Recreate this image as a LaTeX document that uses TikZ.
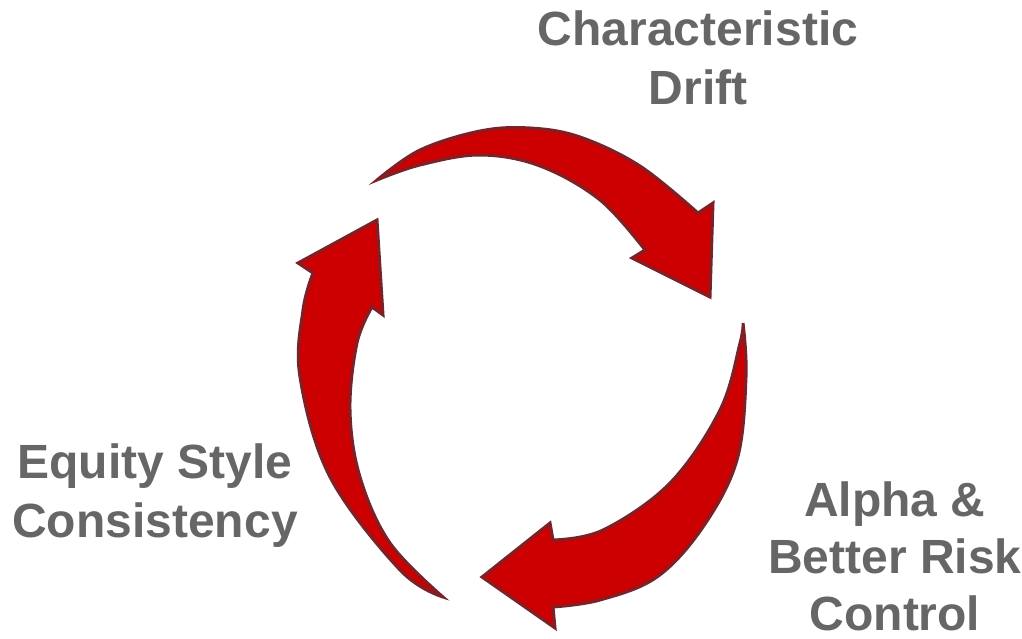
\documentclass[tikz,border=0pt]{standalone}
\usepackage{fontspec}
\setmainfont{Liberation Sans}
\begin{document}
\begin{tikzpicture}[x=1pt,y=-1pt,
  bigarrow/.style={fill=arrowred, draw=arrowedge, line width=3pt, line join=miter},
  label/.style={text=labelgray, font=\fontsize{48}{59}\selectfont\bfseries, align=center, inner sep=0pt}]
\definecolor{arrowred}{HTML}{CC0000}
\definecolor{arrowedge}{HTML}{7A2228}
\definecolor{labelgray}{HTML}{666666}
\useasboundingbox (0,0) rectangle (1022,639);

% upper arrow, bending clockwise to the right
\path[bigarrow]
  plot[smooth, tension=0.6] coordinates {(377,180) (420,150) (480,131) (530,128) (580,137) (640,166) (698,213)}
  -- (713,203) -- (710,297) -- (632,258) -- (645,250)
  -- plot[smooth, tension=0.6] coordinates {(645,250) (600,200) (540,166) (480,155) (420,165) (377,180)}
  -- cycle;

% right arrow, sweeping down to the lower left
\path[bigarrow]
  plot[smooth, tension=0.6] coordinates {(743,323) (746,377) (737,460) (703,527) (657,577) (600,600) (553,607)}
  -- (555,628) -- (482,577) -- (550,523) -- (553,540)
  -- plot[smooth, tension=0.6] coordinates {(553,540) (603,530) (670,483) (720,410) (740,343) (743,323)}
  -- cycle;

% left arrow, rising to the top
\path[bigarrow]
  plot[smooth, tension=0.6] coordinates {(443,597) (400,570) (330,477) (300,377) (303,310) (313,273)}
  -- (298,263) -- (377,220) -- (383,315) -- (372,307)
  -- plot[smooth, tension=0.6] coordinates {(372,307) (357,343) (350,410) (360,477) (390,543) (443,597)}
  -- cycle;

% labels, placed by the baseline of their last line
\node[label, anchor=base] (drift) at (698,105) {Characteristic\\Drift};
\node[label, font=\fontsize{48}{57}\selectfont\bfseries, anchor=base] (alpha) at (895,630) {Alpha \&\\Better Risk\\Control};
\node[label, anchor=base] (equity) at (155,537) {Equity Style\\Consistency};
\end{tikzpicture}
\end{document}
